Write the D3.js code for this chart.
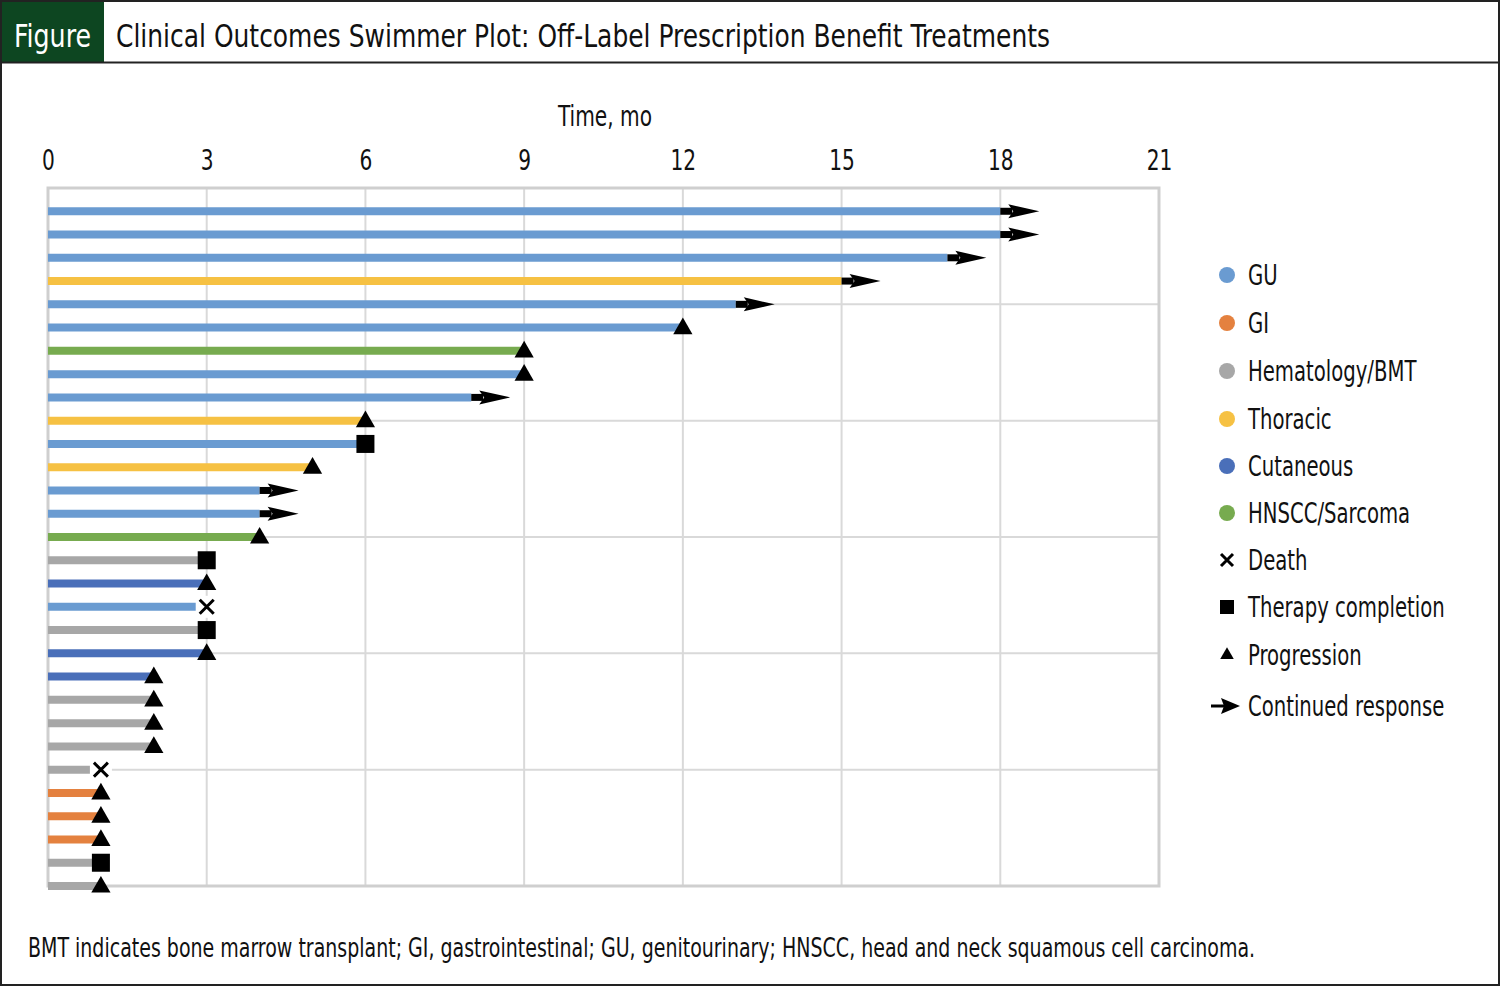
<!DOCTYPE html>
<html>
<head>
<meta charset="utf-8">
<script src="https://cdn.jsdelivr.net/npm/d3@7"></script>
<style>
  body { margin: 0; background: #fff; }
  text { font-family: "Liberation Sans Narrow", "DejaVu Sans Condensed", "Roboto", sans-serif; }
</style>
</head>
<body>
<svg id="chart" width="1500" height="986"></svg>
<script>
// patients, top to bottom
const months = [18, 18, 17, 15, 13, 12, 9, 9, 8, 6, 6, 5, 4, 4, 4, 3, 3, 3, 3, 3, 2, 2, 2, 2, 1, 1, 1, 1, 1, 1]
const groups = ["GU", "GU", "GU", "Thoracic", "GU", "GU", "HNSCC/Sarcoma", "GU", "GU", "Thoracic",
  "GU", "Thoracic", "GU", "GU", "HNSCC/Sarcoma", "Hematology/BMT", "Cutaneous", "GU", "Hematology/BMT", "Cutaneous",
  "Cutaneous", "Hematology/BMT", "Hematology/BMT", "Hematology/BMT", "Hematology/BMT", "GI", "GI", "GI", "Hematology/BMT", "Hematology/BMT"]
const outcomes = ["Continued response", "Continued response", "Continued response", "Continued response", "Continued response",
  "Progression", "Progression", "Progression", "Continued response", "Progression",
  "Therapy completion", "Progression", "Continued response", "Continued response", "Progression",
  "Therapy completion", "Progression", "Death", "Therapy completion", "Progression",
  "Progression", "Progression", "Progression", "Progression", "Death",
  "Progression", "Progression", "Progression", "Therapy completion", "Progression"]

const groupNames = ["GU", "GI", "Hematology/BMT", "Thoracic", "Cutaneous", "HNSCC/Sarcoma"]
const groupColors = ["#6a9bd1", "#e4813f", "#a7a7a7", "#f6c143", "#4a6fb9", "#77ab4f"]
const outcomeNames = ["Death", "Therapy completion", "Progression", "Continued response"]
const xTicks = [0, 3, 6, 9, 12, 15, 18, 21]

const svg = d3.select("#chart")
const color = d3.scaleOrdinal().domain(groupNames).range(groupColors)

// the fallback font is wider than the condensed face in the picture, squeeze it
function condense(sel, k) {
  sel.each(function () {
    const w = this.getComputedTextLength()
    d3.select(this).attr("textLength", w * k).attr("lengthAdjust", "spacingAndGlyphs")
  })
}

// frame + header
svg.append("rect").attr("x", 1).attr("y", 1).attr("width", 1498).attr("height", 984)
  .attr("fill", "none").attr("stroke", "#222").attr("stroke-width", 2)
svg.append("rect").attr("x", 2).attr("y", 2).attr("width", 102).attr("height", 60).attr("fill", "#0d4621")
svg.append("line").attr("x1", 0).attr("x2", 1500).attr("y1", 62.5).attr("y2", 62.5)
  .attr("stroke", "#222").attr("stroke-width", 2)
svg.append("text").attr("x", 14).attr("y", 47)
  .attr("fill", "#fff").attr("font-size", 32)
  .attr("textLength", 77).attr("lengthAdjust", "spacingAndGlyphs").text("Figure")
svg.append("text").attr("x", 116).attr("y", 47).attr("font-size", 32).attr("fill", "#111")
  .attr("textLength", 934).attr("lengthAdjust", "spacingAndGlyphs")
  .text("Clinical Outcomes Swimmer Plot: Off-Label Prescription Benefit Treatments")

// scales
const x = d3.scaleLinear().domain([0, 21]).range([48, 1159])
const y = d3.scaleLinear().domain([0, 30]).range([886, 188])
const rowY = i => y(months.length - 1 - i)

// grid
const g = svg.append("g")
g.selectAll(".vg").data(xTicks).enter().append("line")
  .attr("x1", d => x(d)).attr("x2", d => x(d)).attr("y1", y(30)).attr("y2", y(0))
  .attr("stroke", "#d9d9d9").attr("stroke-width", 2)
g.selectAll(".hg").data(d3.range(0, 31, 5)).enter().append("line")
  .attr("x1", x(0)).attr("x2", x(21)).attr("y1", d => y(d)).attr("y2", d => y(d))
  .attr("stroke", "#d9d9d9").attr("stroke-width", 2)
g.append("rect").attr("x", x(0)).attr("y", y(30)).attr("width", x(21) - x(0)).attr("height", y(0) - y(30))
  .attr("fill", "none").attr("stroke", "#cfcfcf").attr("stroke-width", 3)

// top axis
const axis = svg.append("g").attr("transform", `translate(0,${y(30)})`)
  .call(d3.axisTop(x).tickValues(xTicks).tickSize(0).tickPadding(18))
axis.select(".domain").remove()
axis.selectAll("text").attr("font-size", 28).attr("fill", "#111")
  .attr("font-family", "'Liberation Sans Narrow', 'DejaVu Sans Condensed', sans-serif")
  .call(condense, 0.8)
svg.append("text").attr("x", 605).attr("y", 126).attr("text-anchor", "middle")
  .attr("font-size", 28).attr("fill", "#111").text("Time, mo")
  .call(condense, 0.8)

// bars
const rows = months.map((m, i) => ({ m, grp: groups[i], out: outcomes[i], i }))
svg.append("g").selectAll("line").data(rows).enter().append("line")
  .attr("x1", x(0)).attr("x2", d => x(d.m)).attr("y1", d => rowY(d.i)).attr("y2", d => rowY(d.i))
  .attr("stroke", d => color(d.grp)).attr("stroke-width", 8)

// marker shapes
function drawMarker(sel, type) {
  if (type === "Progression") {
    sel.append("path").attr("d", d3.symbol().type(d3.symbolTriangle).size(160)()).attr("fill", "#000")
      .attr("transform", "translate(0,1)")
  } else if (type === "Therapy completion") {
    sel.append("rect").attr("x", -9).attr("y", -9).attr("width", 18).attr("height", 18).attr("fill", "#000")
  } else if (type === "Death") {
    sel.append("rect").attr("x", -11).attr("y", -11).attr("width", 22).attr("height", 22).attr("fill", "#fff")
    sel.append("path").attr("d", "M-7,-7L7,7M-7,7L7,-7")
      .attr("stroke", "#000").attr("stroke-width", 3)
  } else {
    sel.append("rect").attr("x", 0).attr("y", -3.5).attr("width", 12).attr("height", 7).attr("fill", "#000")
    sel.append("path").attr("d", "M8,-7L39,0L8,7L13,0Z").attr("fill", "#000")
  }
}

svg.append("g").selectAll("g").data(rows).enter().append("g")
  .attr("transform", d => `translate(${x(d.m)},${rowY(d.i)})`)
  .each(function (d) { drawMarker(d3.select(this), d.out) })

// legend
const legGroupY = [275, 323, 371, 419, 466, 513]
const legOutY = [560, 607, 655, 706]
const leg = svg.append("g")
groupNames.forEach((n, i) => {
  const it = leg.append("g").attr("transform", `translate(1227,${legGroupY[i]})`)
  it.append("circle").attr("r", 8).attr("fill", groupColors[i])
  it.append("text").attr("x", 21).attr("y", 10).attr("font-size", 28).attr("fill", "#111").text(n)
    .call(condense, 0.78)
})
outcomeNames.forEach((n, i) => {
  const it = leg.append("g").attr("transform", `translate(1227,${legOutY[i]})`)
  if (n === "Continued response") {
    const a = it.append("g").attr("transform", "translate(-16,0)")
    a.append("rect").attr("x", 0).attr("y", -1.5).attr("width", 14).attr("height", 3).attr("fill", "#000")
    a.append("path").attr("d", "M10,-8L29,0L10,8L13,0Z").attr("fill", "#000")
  } else if (n === "Progression") {
    it.append("path").attr("d", d3.symbol().type(d3.symbolTriangle).size(80)()).attr("fill", "#000")
  } else if (n === "Therapy completion") {
    it.append("rect").attr("x", -7).attr("y", -7).attr("width", 14).attr("height", 14).attr("fill", "#000")
  } else {
    it.append("path").attr("d", "M-6,-6L6,6M-6,6L6,-6").attr("stroke", "#000").attr("stroke-width", 3)
  }
  it.append("text").attr("x", 21).attr("y", 10).attr("font-size", 28).attr("fill", "#111").text(n)
    .call(condense, 0.78)
})

// footnote, squeezed with a transform so its box stays inside the frame
const foot = svg.append("text").attr("font-size", 26).attr("fill", "#111")
  .text("BMT indicates bone marrow transplant; GI, gastrointestinal; GU, genitourinary; HNSCC, head and neck squamous cell carcinoma.")
const fw = foot.node().getComputedTextLength()
foot.attr("transform", `translate(28,957) scale(${1228 / fw},1)`)
</script>
</body>
</html>
